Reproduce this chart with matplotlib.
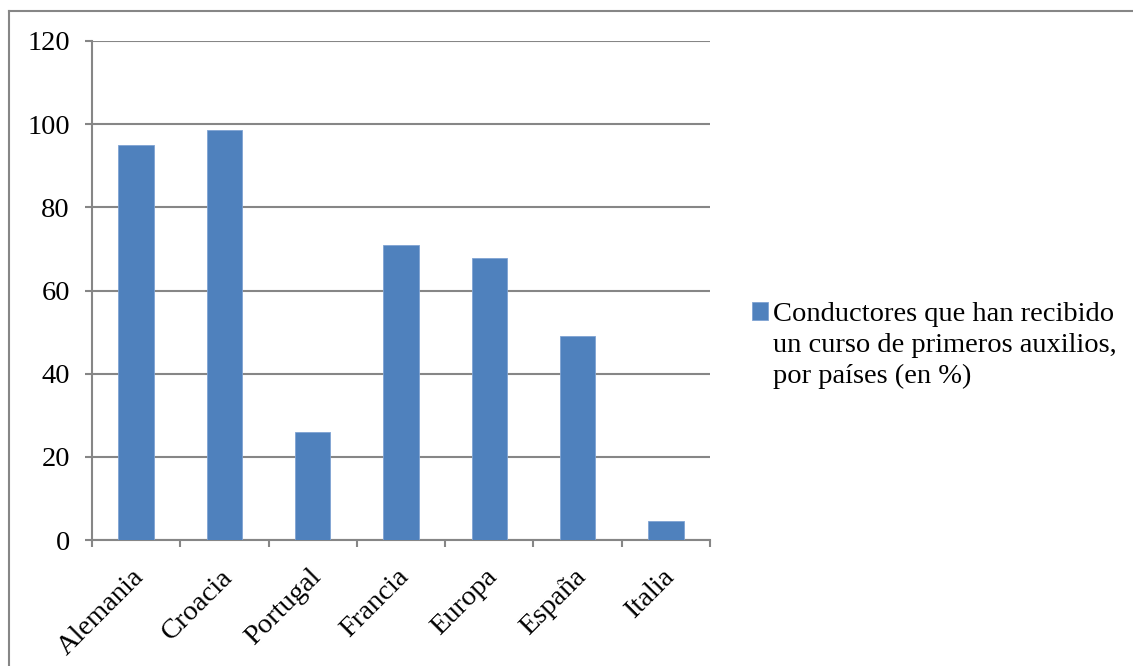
import matplotlib.pyplot as plt
from matplotlib.lines import Line2D
import numpy as np

# Data
paises = ['Alemania', 'Croacia', 'Portugal', 'Francia', 'Europa', 'España', 'Italia']
porcentaje = [95.1, 98.6, 26, 70.9, 67.9, 49, 4.5]
serie = 'Conductores que han recibido\nun curso de primeros auxilios,\npor países (en %)'

azul = '#4F81BD'
gris = '#868686'
fs = 20.5

plt.rcParams['font.family'] = ['Liberation Serif', 'DejaVu Serif']

fig = plt.figure(figsize=(11.33, 6.66), dpi=100)
ax = fig.add_axes([92/1133, 1 - 540/666, 618/1133, 499/666])

x = np.arange(len(paises))
ax.bar(x, porcentaje, width=0.4, color=azul, edgecolor='#7FA3D3', linewidth=0.6,
       label=serie, zorder=3)

ax.set_xlim(-0.5, len(paises) - 0.5)
ax.set_ylim(0, 120)
ax.set_yticks(range(0, 121, 20))
ax.yaxis.grid(True, color=gris, linewidth=1.5, zorder=0)

# category ticks sit between the bars, names hang slightly right of centre
ax.set_xticks(np.arange(-0.5, len(paises)))
ax.set_xticklabels([])
ax.set_xticks(x + 0.05, minor=True)
ax.set_xticklabels(paises, minor=True, rotation=45, ha='right', va='center',
                   rotation_mode='anchor', fontsize=fs)
ax.tick_params(axis='x', which='minor', length=0, pad=24)
ax.tick_params(axis='x', which='major', length=5, width=1.5, color=gris, direction='out')
ax.tick_params(axis='y', length=5, width=1.5, color=gris, direction='out',
               labelsize=fs, pad=11)

for s in ['top', 'right']:
    ax.spines[s].set_visible(False)
for s in ['left', 'bottom']:
    ax.spines[s].set_color(gris)
    ax.spines[s].set_linewidth(1.5)

leg = fig.legend(loc='upper left', bbox_to_anchor=(752/1133, 1 - 302/666),
                 frameon=False, fontsize=fs, handlelength=0.57, handleheight=0.57,
                 handletextpad=0.18, borderpad=0, borderaxespad=0)
for t in leg.get_texts():
    t.set_linespacing(1.3)
# put the colour key next to the first line of the label
for col in leg._legend_handle_box.get_children():
    for row in col.get_children():
        row.align = 'top'

# outer chart frame
fig.add_artist(Line2D([8.5/1133, 8.5/1133], [0, 1 - 11/666], color=gris, lw=1.5,
                      transform=fig.transFigure))
fig.add_artist(Line2D([8.5/1133, 1], [1 - 11/666, 1 - 11/666], color=gris, lw=1.5,
                      transform=fig.transFigure))

fig.savefig('out.png', dpi=100)
